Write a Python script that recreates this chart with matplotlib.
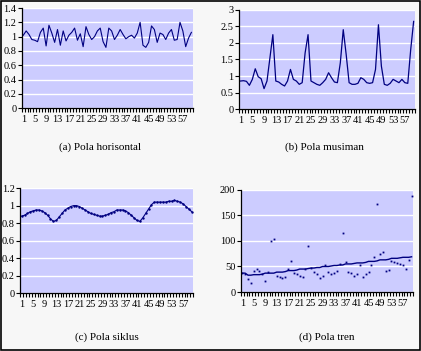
import matplotlib
matplotlib.use("Agg")
import matplotlib.pyplot as plt
from matplotlib.patches import Rectangle
import numpy as np

periods = list(range(1, 61))
xtick_labels = [str(v) for v in range(1, 61, 4)]

horizontal = [1.02, 1.08, 1.03, 0.96, 0.95, 0.93, 1.06, 1.12, 0.87, 1.16,
              1.05, 0.92, 1.10, 0.88, 1.08, 0.94, 1.02, 1.06, 1.12, 0.95,
              1.04, 0.86, 1.14, 1.03, 0.96, 1.00, 1.08, 1.12, 0.93, 0.85,
              1.12, 1.08, 0.96, 1.02, 1.10, 1.03, 0.97, 1.00, 1.02, 0.98,
              1.05, 1.20, 0.88, 0.85, 0.92, 1.15, 1.10, 0.92, 1.05, 1.03,
              0.96, 1.05, 1.10, 0.95, 0.96, 1.20, 1.08, 0.86, 0.98, 1.06]

seasonal = [0.85, 0.86, 0.84, 0.72, 0.90, 1.22, 0.98, 0.92, 0.62, 0.85, 1.55, 2.25,
            0.85, 0.82, 0.75, 0.70, 0.85, 1.20, 0.90, 0.85, 0.75, 0.80, 1.70, 2.25,
            0.85, 0.80, 0.75, 0.72, 0.80, 0.90, 1.10, 0.95, 0.82, 0.80, 1.40, 2.40,
            1.65, 0.80, 0.75, 0.75, 0.78, 0.95, 0.90, 0.80, 0.78, 0.80, 1.20, 2.55,
            1.30, 0.75, 0.72, 0.78, 0.90, 0.85, 0.80, 0.90, 0.80, 0.78, 1.80, 2.65]

cycle = [0.88, 0.89, 0.91, 0.93, 0.94, 0.95, 0.95, 0.94, 0.92, 0.89,
         0.85, 0.82, 0.83, 0.87, 0.91, 0.95, 0.97, 0.99, 1.00, 1.00,
         0.99, 0.97, 0.95, 0.93, 0.91, 0.90, 0.89, 0.88, 0.88, 0.89,
         0.90, 0.92, 0.93, 0.95, 0.95, 0.95, 0.94, 0.92, 0.89, 0.86,
         0.83, 0.82, 0.86, 0.91, 0.96, 1.01, 1.04, 1.04, 1.04, 1.04,
         1.04, 1.05, 1.05, 1.06, 1.05, 1.04, 1.02, 0.99, 0.96, 0.93]

trend_obs = [38, 35, 25, 18, 42, 45, 42, 35, 22, 40,
             100, 103, 32, 30, 28, 30, 45, 60, 37, 35,
             32, 30, 45, 90, 48, 40, 35, 28, 32, 52,
             40, 35, 38, 42, 55, 115, 58, 40, 38, 32,
             35, 52, 30, 35, 40, 52, 68, 172, 75, 78,
             42, 44, 60, 58, 56, 55, 52, 45, 62, 188]

trend_line = [37, 37, 33, 33, 34, 34, 34, 35, 37, 37,
              37, 37, 39, 39, 39, 40, 42, 42, 42, 43,
              45, 45, 45, 46, 47, 47, 48, 48, 50, 50,
              50, 51, 52, 52, 53, 53, 55, 55, 55, 56,
              57, 57, 57, 58, 60, 60, 60, 61, 63, 63,
              63, 64, 66, 66, 66, 67, 68, 68, 68, 69]

titles = ["(a) Pola horisontal", "(b) Pola musiman", "(c) Pola siklus", "(d) Pola tren"]

FILL = "#CCCCFF"
NAVY = "#000080"
plt.rcParams["font.family"] = ["Liberation Serif", "DejaVu Serif"]

fig = plt.figure(figsize=(4.21, 3.51), dpi=100)
fig.patch.set_facecolor("#F7F7F7")
fig.patches.append(Rectangle((0.002, 0.003), 0.995, 0.994, transform=fig.transFigure,
                             fill=False, edgecolor="black", linewidth=1.2))

axes_pos = [
    [0.052, 0.692, 0.406, 0.285],
    [0.568, 0.689, 0.418, 0.283],
    [0.048, 0.165, 0.411, 0.299],
    [0.572, 0.168, 0.409, 0.291],
]
ylims = [(0, 1.4), (0, 3), (0, 1.2), (0, 200)]
yticks = [np.arange(0, 1.41, 0.2), np.arange(0, 3.01, 0.5), np.arange(0, 1.21, 0.2),
          np.arange(0, 201, 50)]
ylabels = [["0", "0.2", "0.4", "0.6", "0.8", "1", "1.2", "1.4"],
           ["0", "0.5", "1", "1.5", "2", "2.5", "3"],
           ["0", "0.2", "0.4", "0.6", "0.8", "1", "1.2"],
           ["0", "50", "100", "150", "200"]]
title_pos = [(0.238, 0.581), (0.77, 0.581), (0.255, 0.040), (0.777, 0.040)]

for i in range(4):
    ax = fig.add_axes(axes_pos[i])
    ax.set_facecolor(FILL)
    ax.set_xlim(0.5, 60.5)
    ax.set_ylim(*ylims[i])
    ax.set_yticks(yticks[i])
    ax.set_yticklabels(ylabels[i], fontsize=7.5)
    ax.set_xticks(list(range(1, 61, 4)))
    ax.set_xticklabels(xtick_labels, fontsize=7.5)
    ax.set_xticks(np.arange(0.5, 61, 1), minor=True)
    ax.tick_params(axis="x", which="major", length=0, pad=5)
    ax.tick_params(axis="x", which="minor", length=3, direction="out", width=0.8)
    ax.tick_params(axis="y", length=3, width=0.8, pad=1)
    for s in ["top", "right"]:
        ax.spines[s].set_visible(False)
    for s in ["left", "bottom"]:
        ax.spines[s].set_linewidth(0.9)
    ax.grid(axis="y", color="white", linewidth=1)
    ax.set_axisbelow(True)
    if i == 0:
        ax.plot(periods, horizontal, color=NAVY, linewidth=0.8)
    elif i == 1:
        ax.plot(periods, seasonal, color=NAVY, linewidth=0.9)
    elif i == 2:
        ax.plot(periods, cycle, color=NAVY, linewidth=0.8, marker="s", markersize=0.7)
    else:
        ax.plot(periods, trend_obs, linestyle="none", marker="s", markersize=1.3,
                color=NAVY, markeredgewidth=0)
        ax.plot(periods, trend_line, color=NAVY, linewidth=1)
    fig.text(title_pos[i][0], title_pos[i][1], titles[i], fontsize=8,
             ha="center", va="center")

fig.savefig("out.png", dpi=100, facecolor=fig.get_facecolor())
